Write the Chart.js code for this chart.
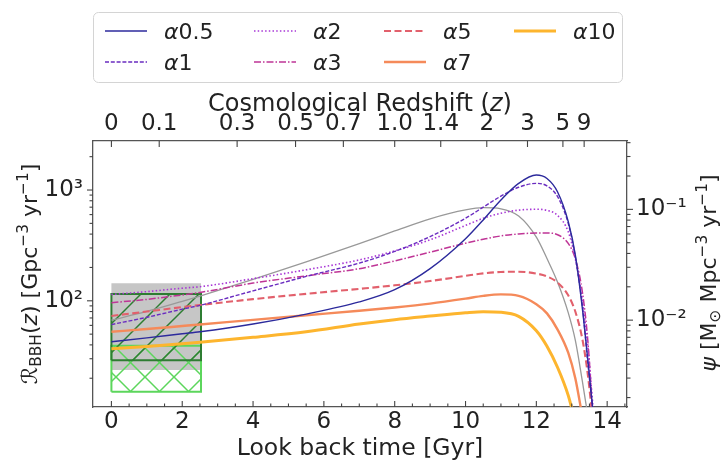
<!DOCTYPE html>
<html>
<head>
<meta charset="utf-8">
<script src="https://cdn.jsdelivr.net/npm/chart.js@4.4.1/dist/chart.umd.min.js"></script>
<style>html,body{margin:0;padding:0;background:#fff}</style>
</head>
<body>
<canvas id="c" width="722" height="461"></canvas>
<script>
// look back time grid [Gyr]
const lookback = [0, 1, 2, 2.5, 4, 5.5, 7, 8, 9, 10, 10.5, 11, 11.5, 12, 12.3, 12.6, 12.9, 13.1, 13.3, 13.45, 13.6];

// BBH merger rate density per model [Gpc^-3 yr^-1]
const rateA05 = [42.7, 46.3, 50.4, 52.5, 61.7, 75.9, 97.7, 126, 195, 363, 537, 813, 1148, 1365, 1270, 960, 520, 260, 85, 30, 10];
const rateA1  = [61, 71, 84, 91, 123, 166, 219, 279, 380, 556, 700, 881, 1059, 1148, 1090, 870, 500, 250, 90, 28, 10];
const rateA2  = [114, 121, 130, 134, 158.5, 190.5, 234, 282, 355, 479, 556, 617, 658, 670, 655, 590, 420, 240, 100, 40, 11];
const rateA3  = [96, 103, 113, 119, 144.5, 168, 195, 229, 275, 331, 359, 385, 401, 409, 409, 395, 330, 240, 120, 45, 9];
const rateA5  = [73, 80, 87.7, 91.6, 103.5, 115.6, 128.2, 138, 150.7, 168, 177, 182, 183, 176, 166, 146, 112, 80, 45, 22, 8];
const rateA7  = [52.5, 55.6, 59.2, 61.1, 67.3, 74.0, 81.3, 87.1, 94.4, 104.7, 110.9, 114.3, 110.9, 93.3, 77, 55, 34, 20, 9, null, null];
const rateA10 = [37, 38.7, 40.9, 42.2, 46.8, 52.5, 61.7, 67.6, 72.8, 78, 79.8, 78.9, 72.4, 53.7, 38.9, 25, 14, 8, null, null, null];

// star formation rate density psi [Msun Mpc^-3 yr^-1]
const sfr = [0.0100, 0.0120, 0.0148, 0.0165, 0.0233, 0.0335, 0.0490, 0.0638, 0.0822, 0.0989, 0.1035, 0.1012, 0.0871, 0.0562, 0.0360, 0.0220, 0.0117, 0.0066, 0.0028, 0.0014, null];

// observed local rate ranges
const boxT = [0, 2.53];
const bandGray = [23.7, 144];
const bandDark = [29.1, 115];
const bandLight = [15.1, 39.2];

// axes
const xTicks = [0, 2, 4, 6, 8, 10, 12, 14];
const zTickPos = [0, 1.35, 3.55, 5.2, 6.55, 8.0, 9.3, 10.6, 11.75, 12.75, 13.35];
const zTickLabels = ['0', '0.1', '0.3', '0.5', '0.7', '1.0', '1.4', '2', '3', '5', '9'];
const yTicks = [100, 1000];
const yTickLabels = ['10\u00B2', '10\u00B3'];
const y2Ticks = [0.01, 0.1];
const y2TickLabels = ['10\u207B\u00B2', '10\u207B\u00B9'];

const FONT = 'DejaVu Sans';
const INK = '#222';
const PSI_SCALE = 6690;
const Y_MIN = 11.0, Y_MAX = 2770;

const pts = ys => lookback.map((t, i) => ({x: t, y: ys[i]}));
const rect = (b) => [
  {x: boxT[0], y: b[0]}, {x: boxT[0], y: b[1]}, {x: boxT[1], y: b[1]},
  {x: boxT[1], y: b[0]}, {x: boxT[0], y: b[0]}
];

function hatch(color, cross) {
  const s = 29, c = document.createElement('canvas');
  c.width = c.height = s;
  const g = c.getContext('2d');
  g.strokeStyle = color; g.lineWidth = 1.5;
  const ln = (a, b, d, e) => { g.beginPath(); g.moveTo(a, b); g.lineTo(d, e); g.stroke(); };
  ln(-2, s + 2, s + 2, -2); ln(-2, 2, 2, -2); ln(s - 2, s + 2, s + 2, s - 2);
  if (cross) { ln(-2, -2, s + 2, s + 2); ln(s - 2, -2, s + 2, 2); ln(-2, s - 2, 2, s + 2); }
  return g.createPattern(c, 'repeat');
}

const curve = (label, data, color, width, dash, col, row) => ({
  label, data: pts(data), borderColor: color, borderWidth: width, borderDash: dash,
  pointRadius: 0, cubicInterpolationMode: 'monotone', fill: false, order: 1,
  yAxisID: 'y', legendPos: [col, row]
});

const datasets = [
  {label: 'gray', data: rect(bandGray), borderWidth: 0, backgroundColor: '#c6c6c6', fill: 'shape',
   pointRadius: 0, tension: 0, order: 30, yAxisID: 'y'},
  {label: 'light', data: rect(bandLight), borderColor: '#5cd65c', borderWidth: 2,
   backgroundColor: hatch('#5cd65c', true), fill: 'shape', pointRadius: 0, tension: 0, order: 20, yAxisID: 'y'},
  {label: 'dark', data: rect(bandDark), borderColor: '#2e7d32', borderWidth: 2,
   backgroundColor: hatch('#2e7d32', false), fill: 'shape', pointRadius: 0, tension: 0, order: 10, yAxisID: 'y'},
  {label: 'sfr', data: pts(sfr), borderColor: '#999', borderWidth: 1.3, pointRadius: 0,
   cubicInterpolationMode: 'monotone', fill: false, order: 5, yAxisID: 'y2'},
  curve('\u03B10.5', rateA05, '#2c2a9c', 1.4, [], 0, 0),
  curve('\u03B11', rateA1, '#6a2cc0', 1.4, [4, 1.8], 0, 1),
  curve('\u03B12', rateA2, '#a838d6', 1.6, [1.5, 2.2], 1, 0),
  curve('\u03B13', rateA3, '#bf3596', 1.5, [7, 2, 1.5, 2], 1, 1),
  curve('\u03B15', rateA5, '#e2606c', 2.1, [7, 3.5], 2, 0),
  curve('\u03B17', rateA7, '#f58a5a', 2.4, [], 2, 1),
  curve('\u03B110', rateA10, '#fdb52e', 3.0, [], 3, 0)
];

function setFont(ctx, s, size) {
  ctx.font = (s.it ? 'italic ' : '') + (size * (s.sc || 1)) + 'px "' + FONT + '"';
}
function drawRich(ctx, segs, x, y, size, rot, center) {
  ctx.save();
  ctx.translate(x, y); ctx.rotate(rot);
  ctx.fillStyle = INK; ctx.textAlign = 'left'; ctx.textBaseline = 'alphabetic';
  let w = 0;
  segs.forEach(s => { setFont(ctx, s, size); w += ctx.measureText(s.t).width; });
  let cx = center ? -w / 2 : 0;
  segs.forEach(s => {
    setFont(ctx, s, size);
    ctx.fillText(s.t, cx, -(s.dy || 0) * size);
    cx += ctx.measureText(s.t).width;
  });
  ctx.restore();
}

const decor = {
  id: 'decor',
  afterDraw(chart) {
    const {ctx, chartArea: a, scales} = chart;
    ctx.save();
    ctx.strokeStyle = '#444'; ctx.lineWidth = 1.1;
    const tk = (x1, y1, x2, y2) => { ctx.beginPath(); ctx.moveTo(x1, y1); ctx.lineTo(x2, y2); ctx.stroke(); };
    // bottom ticks (inward)
    for (let v = 0; v <= 14.5; v += 0.5) {
      const px = scales.x.getPixelForValue(v);
      if (px < a.left + 2 || px > a.right - 2) continue;
      tk(px, a.bottom, px, a.bottom - (v % 2 === 0 ? 6 : 3.5));
    }
    // top redshift ticks (inward)
    zTickPos.forEach(v => { const px = scales.xTop.getPixelForValue(v); tk(px, a.top, px, a.top + 6); });
    // log ticks (outward)
    const logTicks = (scale, decades, side) => {
      decades.forEach(d => {
        for (let m = 1; m < 10; m++) {
          const v = m * d;
          if (v < scale.min || v > scale.max) continue;
          const py = scale.getPixelForValue(v);
          const L = m === 1 ? 6 : 3.5;
          if (side < 0) tk(a.left, py, a.left - L, py); else tk(a.right, py, a.right + L, py);
        }
      });
    };
    logTicks(scales.y, [10, 100, 1000], -1);
    logTicks(scales.y2, [0.001, 0.01, 0.1], 1);
    ctx.restore();

    // axis titles
    drawRich(ctx, [{t: 'Cosmological Redshift ('}, {t: 'z', it: true}, {t: ')'}], (a.left + a.right) / 2, 111, 24, 0, true);
    drawRich(ctx, [{t: 'Look back time [Gyr]'}], (a.left + a.right) / 2, 455, 23.5, 0, true);
    drawRich(ctx, [
      {t: '\u211B'}, {t: 'BBH', sc: 0.7, dy: -0.2}, {t: '('}, {t: 'z', it: true}, {t: ') [Gpc'},
      {t: '\u22123', sc: 0.7, dy: 0.42}, {t: ' yr'}, {t: '\u22121', sc: 0.7, dy: 0.42}, {t: ']'}
    ], 37, (a.top + a.bottom) / 2, 22, -Math.PI / 2, true);
    drawRich(ctx, [
      {t: '\u03C8', it: true}, {t: ' [M'}, {t: '\u2299', sc: 0.7, dy: -0.2}, {t: ' Mpc'},
      {t: '\u22123', sc: 0.7, dy: 0.42}, {t: ' yr'}, {t: '\u22121', sc: 0.7, dy: 0.42}, {t: ']'}
    ], 716, (a.top + a.bottom) / 2 - 1, 22, -Math.PI / 2, true);

    // legend
    ctx.save();
    ctx.beginPath();
    ctx.roundRect(93.5, 12.5, 529, 70, 5);
    ctx.fillStyle = 'rgba(255,255,255,0.85)'; ctx.fill();
    ctx.strokeStyle = '#d4d4d4'; ctx.lineWidth = 1; ctx.stroke();
    const colX = [105, 254, 384, 514], rowY = [31, 62];
    chart.data.datasets.forEach(ds => {
      if (!ds.legendPos) return;
      const x = colX[ds.legendPos[0]], y = rowY[ds.legendPos[1]];
      ctx.save();
      ctx.strokeStyle = ds.borderColor; ctx.lineWidth = ds.borderWidth; ctx.setLineDash(ds.borderDash || []);
      ctx.beginPath(); ctx.moveTo(x, y); ctx.lineTo(x + 42, y); ctx.stroke();
      ctx.restore();
      drawRich(ctx, [{t: ds.label[0], it: true}, {t: ds.label.slice(1)}], x + 59, y + 8, 22, 0, false);
    });
    ctx.restore();
  }
};

const tickFont = {family: FONT, size: 23};
new Chart(document.getElementById('c'), {
  type: 'line',
  data: {datasets},
  options: {
    responsive: false, animation: false, devicePixelRatio: 1,
    layout: {padding: 0},
    plugins: {legend: {display: false}, tooltip: {enabled: false}},
    scales: {
      x: {
        type: 'linear', position: 'bottom', min: -0.52, max: 14.56,
        afterBuildTicks: s => { s.ticks = xTicks.map(v => ({value: v})); },
        afterFit: s => { s.height = 54; },
        grid: {display: false, drawTicks: false},
        border: {display: true, color: '#555', width: 1.3},
        ticks: {font: tickFont, color: INK, padding: 1, autoSkip: false, maxRotation: 0}
      },
      xTop: {
        type: 'linear', position: 'top', min: -0.52, max: 14.56,
        afterBuildTicks: s => { s.ticks = zTickPos.map(v => ({value: v})); },
        afterFit: s => { s.height = 141; },
        grid: {display: false, drawTicks: false},
        border: {display: true, color: '#555', width: 1.3},
        ticks: {font: tickFont, color: INK, padding: 3, autoSkip: false, maxRotation: 0,
                callback: (v, i) => zTickLabels[i]}
      },
      y: {
        type: 'logarithmic', position: 'left', min: Y_MIN, max: Y_MAX,
        afterBuildTicks: s => { s.ticks = yTicks.map(v => ({value: v})); },
        afterFit: s => { s.width = 93; },
        grid: {display: false, drawTicks: false},
        border: {display: true, color: '#555', width: 1.3},
        ticks: {font: tickFont, color: INK, padding: 10, autoSkip: false,
                callback: (v, i) => yTickLabels[i]}
      },
      y2: {
        type: 'logarithmic', position: 'right', min: Y_MIN / PSI_SCALE, max: Y_MAX / PSI_SCALE,
        afterBuildTicks: s => { s.ticks = y2Ticks.map(v => ({value: v})); },
        afterFit: s => { s.width = 95; },
        grid: {display: false, drawTicks: false},
        border: {display: true, color: '#555', width: 1.3},
        ticks: {font: tickFont, color: INK, padding: 9, autoSkip: false,
                callback: (v, i) => y2TickLabels[i]}
      }
    }
  },
  plugins: [decor]
});
</script>
</body>
</html>
